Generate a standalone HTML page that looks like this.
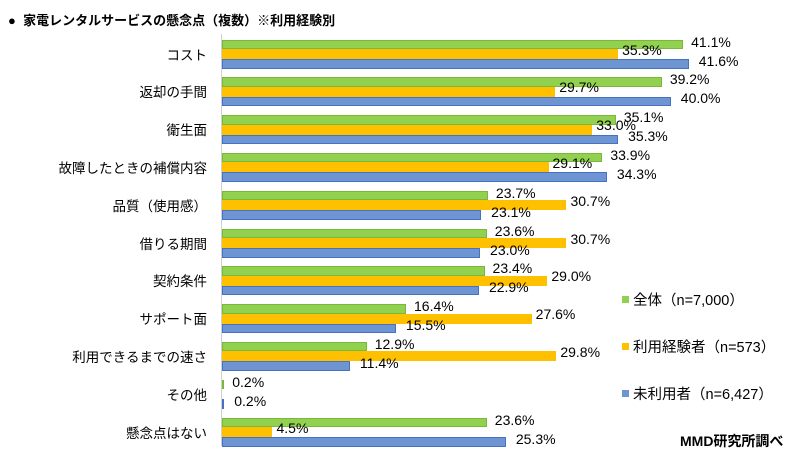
<!DOCTYPE html>
<html><head><meta charset="utf-8"><style>
body{margin:0;width:800px;height:461px;background:#fff;overflow:hidden;position:relative;font-family:"Liberation Sans","Noto Sans CJK JP",sans-serif;color:#000}
.a{position:absolute;white-space:nowrap}
.c{font-size:13.5px;text-align:right;width:200px;left:7px}
.v{font-size:14px}
.b{position:absolute;left:222px;box-sizing:border-box}
.g{background:#92d050;border:1px solid #7ab83a}
.o{background:#ffc000}
.bl{background:#6e94d2;border:1px solid #4472c4}
</style></head><body>
<div class="a" style="left:8px;top:10px;font-size:13px;font-weight:bold">●&nbsp;&nbsp;家電レンタルサービスの懸念点（複数）※利用経験別</div>
<div class="a" style="left:221px;top:34px;width:1px;height:412px;background:#d0d0d0"></div>
<div id="c"></div>
<div class="a" style="left:622px;top:296px;width:7px;height:7px;background:#92d050"></div>
<div class="a" style="left:633px;top:289px;font-size:14.5px">全体（n=7,000）</div>
<div class="a" style="left:622px;top:343px;width:7px;height:7px;background:#ffc000"></div>
<div class="a" style="left:633px;top:336px;font-size:14.5px">利用経験者（n=573）</div>
<div class="a" style="left:622px;top:390px;width:7px;height:7px;background:#6e94d2"></div>
<div class="a" style="left:633px;top:383px;font-size:14.5px">未利用者（n=6,427）</div>
<div class="a" style="left:680px;top:431px;font-size:14px;font-weight:bold">MMD研究所調べ</div>
<script>
var d=[["コスト",41.1,35.3,41.6],["返却の手間",39.2,29.7,40.0],["衛生面",35.1,33.0,35.3],["故障したときの補償内容",33.9,29.1,34.3],["品質（使用感）",23.7,30.7,23.1],["借りる期間",23.6,30.7,23.0],["契約条件",23.4,29.0,22.9],["サポート面",16.4,27.6,15.5],["利用できるまでの速さ",12.9,29.8,11.4],["その他",0.2,0,0.2],["懸念点はない",23.6,4.5,25.3]];
var h="",s=11.22;
d.forEach(function(r,i){var y=39.5+i*37.8;
h+='<div class="a c" style="top:'+(y+4)+'px">'+r[0]+'</div>';
var cls=["g","o","bl"],ys=[y,y+9.5,y+19.5],hs=[9.5,10,9.5],ly=[y-6,y+2,y+13],dx=[8,4,10];
for(var k=0;k<3;k++){var v=r[k+1];if(k==1&&v==0)continue;var w=Math.max(v*s,1.5);
h+='<div class="b '+cls[k]+'" style="top:'+ys[k]+'px;height:'+hs[k]+'px;width:'+w+'px"></div>';
h+='<div class="a v" style="left:'+(222+w+dx[k])+'px;top:'+ly[k]+'px">'+v.toFixed(1)+'%</div>';}
});
document.getElementById("c").innerHTML=h;
</script>
</body></html>
